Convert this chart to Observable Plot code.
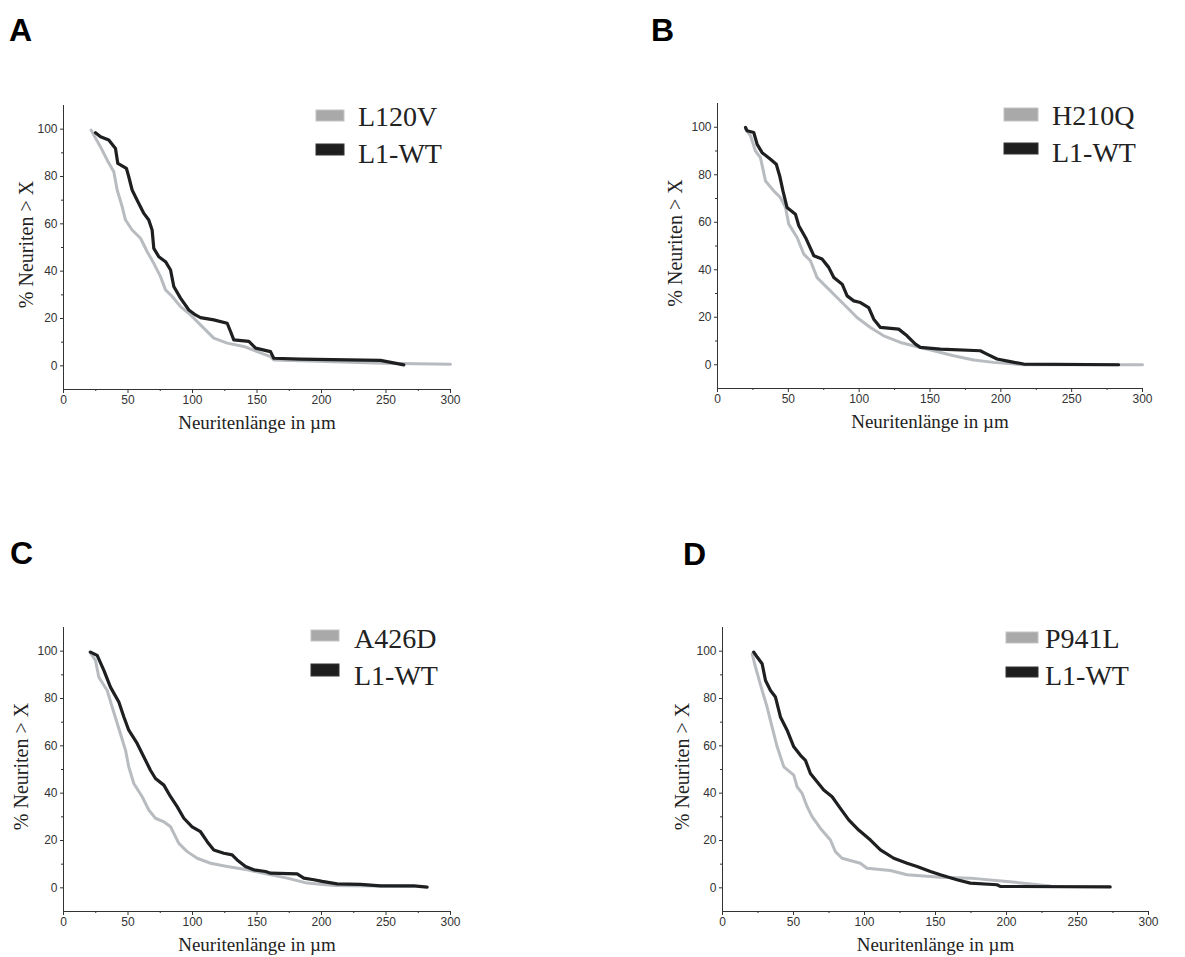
<!DOCTYPE html>
<html><head><meta charset="utf-8">
<script src="https://cdn.jsdelivr.net/npm/d3@7"></script>
<script src="https://cdn.jsdelivr.net/npm/@observablehq/plot@0.6"></script>
<style>
html,body{margin:0;padding:0;background:#fff;overflow:hidden}
#root{position:relative;width:1185px;height:957px;overflow:hidden}
.panel{position:absolute}
#overlay{position:absolute;left:0;top:0;pointer-events:none}
</style></head><body><div id="root"></div>
<script>
// ---- tick values ----
const xTicks = [0, 50, 100, 150, 200, 250, 300];
const xMinorTicks = [25, 75, 125, 175, 225, 275];
const yTicks = [0, 20, 40, 60, 80, 100];
const yMinorTicks = [10, 30, 50, 70, 90];

// ---- texts ----
const xLabel = "Neuritenlänge in µm";
const yLabel = "% Neuriten > X";
const wtName = "L1-WT";
const panelLetters = ["A", "B", "C", "D"];
const mutantNames = ["L120V", "H210Q", "A426D", "P941L"];

// ---- data: [length µm, % neurites > X] ----
const L120V = [[21.4,99.6],[28.7,92.5],[33.9,86.9],[39,82],[41.6,74.3],[45.5,67.2],[48.1,61.6],[53.2,57.4],[59.7,53.9],[64.9,48.2],[70,43.3],[75.2,37.7],[79.1,32.1],[84.3,29.3],[90.7,25],[98.5,21.5],[106.2,17.3],[116.5,11.7],[126.9,9.6],[139.8,8.2],[150.1,6],[160.5,3.9],[163,2.5],[183.7,2.1],[248,1.1],[300,0.7]];
const WT_A = [[24.8,98.5],[28.7,96.8],[35.1,95.4],[40.3,91.8],[42.1,85.5],[48.8,83.4],[50.6,79.9],[53.2,74.3],[57.1,70],[62.3,64.4],[66.1,61.6],[68.7,57.4],[70,49.6],[73.9,46.1],[79.1,44],[83,40.5],[85.5,33.5],[90.7,28.6],[97.2,23.6],[102.3,21.5],[106.2,20.4],[116.5,19.4],[126.9,18],[129.5,14.5],[132,11],[143.7,10.3],[148.9,7.5],[160.5,6],[163,3.2],[183.7,2.8],[245.7,2.3],[263.8,0.4]];

const H210Q = [[19.8,99.2],[23.3,96.4],[26.8,90],[30.3,87.2],[33.9,77.4],[39.7,73.2],[44.4,70.4],[48,66.2],[50.3,59.2],[56.2,53.6],[60.9,46.6],[65.6,43.8],[70.3,36.7],[77.4,32.5],[84.4,28.3],[91.5,24.1],[98.5,19.9],[107.9,15.7],[117.3,12.2],[129.1,9.4],[140.9,7.6],[152.6,5.9],[166.7,3.8],[180.8,2],[194.9,1],[216,0],[300,0]];
const WT_B = [[19.8,99.9],[20.9,98.5],[25.6,97.8],[28,92.8],[31.5,89.3],[37.4,86.5],[41.5,84.4],[43.9,79.5],[46.2,73.2],[49.1,66.2],[55,63.4],[57.4,58.5],[62.1,53.6],[68,45.9],[73.8,44.5],[78.5,41],[82.1,36.7],[88,33.9],[91.5,29],[96.2,26.9],[100.9,26.2],[106.7,24.1],[110.3,19.2],[115,15.7],[127.9,15],[133.8,12.2],[139.7,8.7],[143.2,7.3],[157.3,6.6],[185.5,5.9],[190.2,4.5],[197.3,2.4],[206.7,1.3],[216.1,0.3],[283.1,0]];

const A426D = [[20.4,99.6],[24.8,96.1],[27.4,89],[33.9,83.4],[37.7,76.4],[42.9,67.3],[48.1,58.1],[50.6,51.1],[54.5,44.1],[61,38.5],[66.1,32.9],[71.3,29.4],[77.8,27.9],[83,25.8],[89.4,18.8],[95.9,15.3],[103.6,12.5],[114,10.4],[126.9,9],[142.4,7.6],[157.9,5.8],[173.4,4.1],[188.9,2],[209.6,1],[271.6,0.6]];
const WT_C = [[20.9,99.6],[26.1,98.2],[31.3,91.9],[36.4,84.8],[42.9,78.5],[46.8,72.2],[50.6,66.6],[57.1,61],[62.3,55.3],[67.4,49.7],[71.3,46.2],[77.8,43.4],[83,38.5],[88.1,34.3],[93.3,29.4],[99.7,25.8],[106.2,23.7],[111.4,19.5],[116.5,16],[124.3,14.6],[130.7,13.9],[134.6,11.8],[141.1,9],[147.5,7.6],[156.6,6.9],[160.5,6.2],[181.1,5.9],[186.3,4.1],[194.1,3.4],[200.5,2.7],[212.1,1.7],[230.2,1.5],[245.7,0.8],[271.6,0.8],[281.9,0.3]];

const P941L = [[20.9,98.9],[23.2,93.3],[27.9,83.4],[31.4,76.4],[34.9,68],[38.5,59.6],[43.2,51.1],[50.2,47.6],[52.5,42.7],[56.1,39.9],[59.6,34.3],[63.1,30.1],[69,25.1],[76,20.2],[79.5,15.3],[84.2,12.5],[97.1,10.4],[101.8,8.3],[118.2,7.3],[129.9,5.5],[153.4,4.5],[174.5,4.1],[200.3,2.7],[230.8,0.8]];
const WT_D = [[22,99.6],[24.4,97.5],[27.9,94.7],[30.3,87.6],[33.8,83.4],[37.3,80.6],[40.8,72.2],[45.5,66.6],[50.2,59.6],[54.9,56],[58.4,53.9],[61.9,48.3],[66.6,44.8],[71.3,41.3],[77.2,38.5],[83,33.6],[88.9,28.7],[95.9,24.4],[104.2,20.2],[111.2,16],[120.6,12.5],[130,10.4],[137,9],[146.4,6.9],[153.4,5.5],[165.1,3.4],[174.5,2],[193.3,1.3],[195.6,0.6],[273,0.4]];

const mutants = [L120V, H210Q, A426D, P941L];
const wts = [WT_A, WT_B, WT_C, WT_D];

// ---- layout ----
const GRAY = "#b8bbbf", BLACK = "#1e1f21";
const SERIF = "'Liberation Serif','Times New Roman',Times,serif";
const TICKFONT = "'Liberation Sans Narrow','Arial Narrow','Liberation Sans',Arial,sans-serif";
const mL = 63, mT = 20, mR = 30, mB = 50;
const frames = [
  {left: 63,  top: 105, w: 387, h: 284, ylabDx: -37},
  {left: 717, top: 103, w: 425, h: 285, ylabDx: -42},
  {left: 63,  top: 627, w: 387, h: 284, ylabDx: -42},
  {left: 722, top: 627, w: 426, h: 284, ylabDx: -40}
];
const legendLayout = [
  {sx: 316, sw: 28, g: [110, 11], b: [144, 11], tx: 358, tb: [126, 163]},
  {sx: 1004, sw: 34, g: [108, 13], b: [143, 11], tx: 1052, tb: [125, 162]},
  {sx: 311, sw: 28, g: [630, 11], b: [664, 12], tx: 354, tb: [648, 685]},
  {sx: 1006, sw: 32, g: [632, 11], b: [667, 10], tx: 1045, tb: [648, 685]}
];
const letterLayout = [[9, 41], [651, 41], [10, 564], [683, 565]];

const root = document.getElementById("root");

frames.forEach((f, i) => {
  const chart = Plot.plot({
    width: mL + f.w + mR, height: mT + f.h + mB,
    marginLeft: mL, marginTop: mT, marginRight: mR, marginBottom: mB,
    style: {background: "transparent", color: "#333", fontFamily: TICKFONT, fontSize: "12px", overflow: "visible"},
    x: {domain: [0, 300], label: null},
    y: {domain: [-10, 110], label: null},
    marks: [
      Plot.axisX({ticks: xTicks, tickSize: 4, tickPadding: 2, fontSize: 12, label: null}),
      Plot.axisX({ticks: xMinorTicks, tickSize: 2, text: null, label: null}),
      Plot.axisY({ticks: yTicks, tickSize: 3, tickPadding: 3, fontSize: 12, label: null}),
      Plot.axisY({ticks: yMinorTicks, tickSize: 2, text: null, label: null}),
      Plot.ruleX([0], {stroke: "#333", strokeWidth: 1}),
      Plot.ruleY([-10], {stroke: "#333", strokeWidth: 1}),
      Plot.line(mutants[i], {x: d => d[0], y: d => d[1], stroke: GRAY, strokeWidth: 3}),
      Plot.line(wts[i], {x: d => d[0], y: d => d[1], stroke: BLACK, strokeWidth: 3.2}),
      Plot.text([xLabel], {text: d => d, frameAnchor: "bottom", dy: 39, lineAnchor: "bottom",
        fontSize: 19, fontFamily: SERIF, fill: "#222"}),
      Plot.text([yLabel], {text: d => d, frameAnchor: "left", rotate: -90, dx: f.ylabDx, dy: -3,
        textAnchor: "middle", lineAnchor: "middle", fontSize: 20, fontFamily: SERIF, fill: "#222"})
    ]
  });
  chart.classList.add("panel");
  chart.style.left = (f.left - mL) + "px";
  chart.style.top = (f.top - mT) + "px";
  root.appendChild(chart);
});

// overlay: panel letters and legends
const svg = d3.select(root).append("svg").attr("id", "overlay").attr("width", 1185).attr("height", 957);
letterLayout.forEach(([x, y], i) => {
  svg.append("text").attr("x", x).attr("y", y).text(panelLetters[i])
    .attr("font-family", "'Liberation Sans',Arial,sans-serif").attr("font-weight", "bold")
    .attr("font-size", 32).attr("fill", "#000");
});
legendLayout.forEach((L, i) => {
  svg.append("rect").attr("x", L.sx).attr("y", L.g[0]).attr("width", L.sw).attr("height", L.g[1])
    .attr("fill", "#a9a9a9").attr("stroke", "#c4c4c4").attr("stroke-width", 1);
  svg.append("rect").attr("x", L.sx).attr("y", L.b[0]).attr("width", L.sw).attr("height", L.b[1])
    .attr("fill", "#1e1e1e").attr("stroke", "#333").attr("stroke-width", 1);
  svg.append("text").attr("x", L.tx).attr("y", L.tb[0]).text(mutantNames[i])
    .attr("font-family", SERIF).attr("font-size", 28).attr("fill", "#222");
  svg.append("text").attr("x", L.tx).attr("y", L.tb[1]).text(wtName)
    .attr("font-family", SERIF).attr("font-size", 28).attr("fill", "#222");
});
</script>
</body></html>
